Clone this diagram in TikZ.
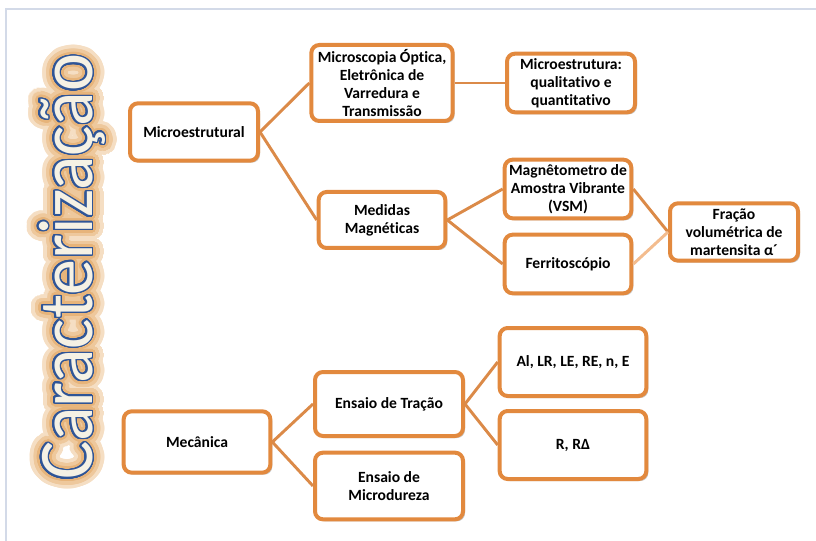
\documentclass[tikz,border=0pt]{standalone}
\usepackage{fontspec}
\setmainfont{Carlito}[Ligatures=NoCommon]
\usepackage{contour}
\usetikzlibrary{shadows}
\definecolor{caixa}{RGB}{226,137,62}
\definecolor{linha}{RGB}{219,138,72}
\definecolor{linhaclara}{RGB}{243,188,142}
\definecolor{moldura}{RGB}{211,218,232}
\definecolor{brilho1}{RGB}{245,222,195}
\definecolor{brilho2}{RGB}{238,200,156}
\definecolor{brilho3}{RGB}{231,180,122}
\definecolor{contorno}{RGB}{47,85,151}
\definecolor{creme}{RGB}{245,241,228}
\tikzset{
  caixa/.style={draw=caixa, line width=3pt, rounded corners=6pt, fill=white,
    align=center, inner sep=2pt, font=\bfseries\fontsize{11.7}{13.5}\selectfont,
    drop shadow={shadow xshift=1.5pt, shadow yshift=-1.5pt, opacity=0.3, fill=black!70}},
  ligacao/.style={draw=linha, line width=2.2pt},
  titulo/.style={rotate=90, anchor=base, inner sep=0pt, font=\fontsize{58}{60}\selectfont},
}
\newcommand{\palavra}{Caracterização}
\newcommand{\brilho}[3]{\scalebox{0.93}[1]{\contourlength{#1}\contour[#2]{#3}{\textcolor{#3}{\palavra}}}}
\begin{document}
\begin{tikzpicture}[x=0.75pt,y=-0.75pt]
  \useasboundingbox (0,0) rectangle (816,541);
  % moldura
  \draw[moldura, line width=1.2pt] (6,541) -- (6,9) -- (816,9);
  % titulo com brilho
  \node[titulo] (g1) at (92,267) {\brilho{9pt}{56}{brilho1}};
  \node[titulo] (g2) at (92,267) {\brilho{6pt}{44}{brilho2}};
  \node[titulo] (g3) at (92,267) {\brilho{3.2pt}{32}{brilho3}};
  \node[titulo, text=creme] (tit) at (92,267) {\scalebox{0.93}[1]{\contourlength{1.1pt}\contour[32]{contorno}{\palavra}}};
  % ramo microestrutural
  \node[caixa, minimum width=96pt, minimum height=43pt] (micro) at (194,132) {Microestrutural};
  \node[caixa, minimum width=106pt, minimum height=57pt] (microscopia) at (382,83) {Microscopia Óptica,\\Eletrônica de\\Varredura e\\Transmissão};
  \node[caixa, minimum width=96pt, minimum height=44pt] (qualiquanti) at (571,83) {Microestrutura:\\qualitativo e\\quantitativo};
  \node[caixa, minimum width=95pt, minimum height=42pt] (magneticas) at (382,220) {Medidas\\Magnéticas};
  \node[caixa, minimum width=95pt, minimum height=44pt] (vsm) at (568,189) {Magnêtometro de\\Amostra Vibrante\\(VSM)};
  \node[caixa, minimum width=95pt, minimum height=44pt] (ferrito) at (568,264) {Ferritoscópio};
  \node[caixa, minimum width=96pt, minimum height=43pt] (fracao) at (734,232) {Fração\\volumétrica de\\martensita α´};
  % ramo mecanico
  \node[caixa, minimum width=110pt, minimum height=46pt] (mecanica) at (197,442) {Mecânica};
  \node[caixa, minimum width=111pt, minimum height=48pt] (tracao) at (389,404) {Ensaio de Tração};
  \node[caixa, minimum width=111pt, minimum height=50pt] (microdureza) at (389,486) {Ensaio de\\Microdureza};
  \node[caixa, minimum width=110pt, minimum height=51pt] (propriedades) at (573,362) {Al, LR, LE, RE, n, E};
  \node[caixa, minimum width=110pt, minimum height=51pt] (anisotropia) at (573,445) {R, RΔ};
  % ligacoes
  \draw[ligacao] (micro.east) -- (microscopia.west);
  \draw[ligacao] (micro.east) -- (magneticas.west);
  \draw[ligacao] (microscopia.east) -- (qualiquanti.west);
  \draw[ligacao] (magneticas.east) -- (vsm.west);
  \draw[ligacao] (magneticas.east) -- (ferrito.west);
  \draw[ligacao] (vsm.east) -- (fracao.west);
  \draw[ligacao, draw=linhaclara] (ferrito.east) -- (fracao.west);
  \draw[ligacao] (mecanica.east) -- (tracao.west);
  \draw[ligacao] (mecanica.east) -- (microdureza.west);
  \draw[ligacao] (tracao.east) -- (propriedades.west);
  \draw[ligacao] (tracao.east) -- (anisotropia.west);
\end{tikzpicture}
\end{document}
